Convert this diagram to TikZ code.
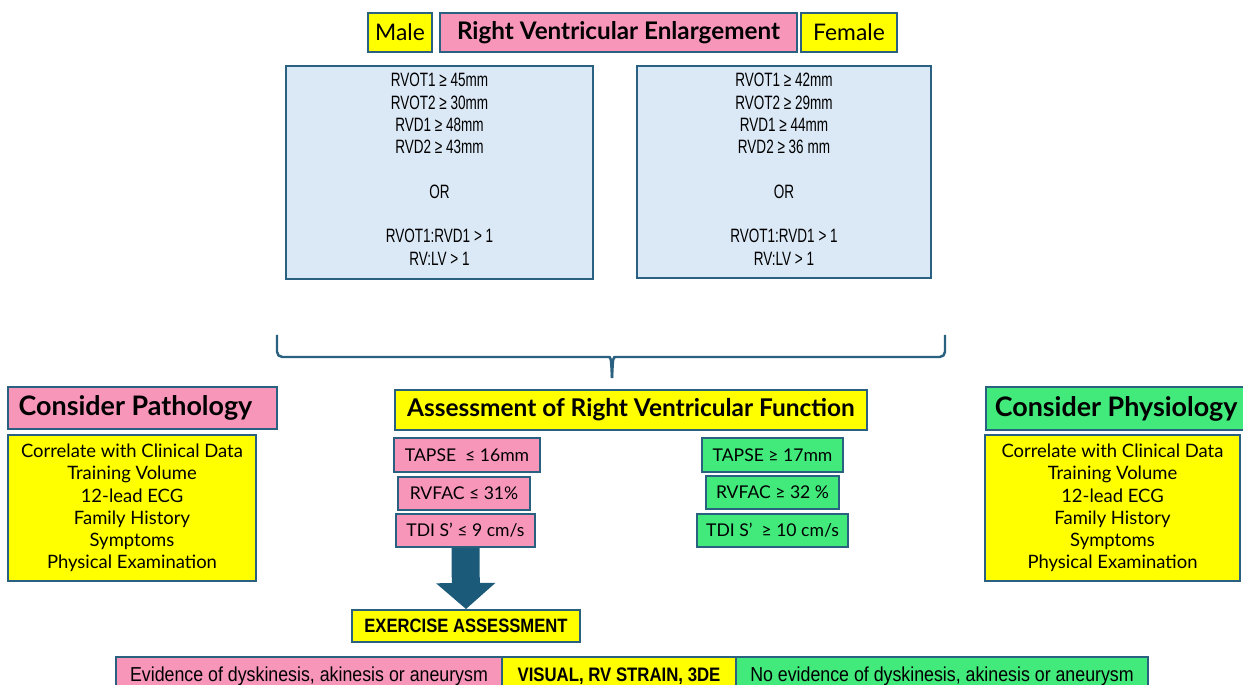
\documentclass[tikz,border=0pt]{standalone}
\usepackage{fontspec}
\setmainfont{Lato}
\newfontfamily\narrowfont[FakeStretch=0.86]{Liberation Sans}
\newfontfamily\bottomfont[FakeStretch=0.88]{Liberation Sans}
\newfontfamily\condfont[FakeStretch=0.7]{Liberation Sans}
\usepackage{xcolor}
\usepackage{tikz}
\usetikzlibrary{calc}
\usetikzlibrary{positioning}
\usetikzlibrary{arrows.meta}

\definecolor{edgeblue}{RGB}{42,96,128}
\definecolor{arrowblue}{RGB}{28,90,122}
\definecolor{pinkfill}{RGB}{248,150,186}
\definecolor{yelfill}{RGB}{255,255,0}
\definecolor{greenfill}{RGB}{66,234,124}
\definecolor{bluefill}{RGB}{219,232,246}
\def\pu{0.02cm}

\begin{document}
\begin{tikzpicture}[x=0.02cm,y=-0.02cm,
	box/.style={draw=edgeblue,line width=1.1pt,inner sep=0pt,align=center,text=black},
	pinkbox/.style={box,fill=pinkfill},
	yelbox/.style={box,fill=yelfill},
	greenbox/.style={box,fill=greenfill},
	bluebox/.style={box,fill=bluefill,anchor=north},
	listtext/.style={font=\fontsize{10.5}{12.7}\selectfont},
	smalltext/.style={font=\fontsize{10}{12}\selectfont},
	crittext/.style={align=center,anchor=north,font=\condfont\fontsize{11}{12.7}\selectfont},
	bottomtext/.style={font=\bottomfont\fontsize{11.5}{12}\selectfont}]
	\useasboundingbox (0,0) rectangle (1243,685);
	% top row
	\node[yelbox,minimum width=64*\pu,minimum height=39*\pu,font=\fontsize{13}{15}\selectfont] (male) at (400,32.5) {Male};
	\node[pinkbox,minimum width=357*\pu,minimum height=39*\pu,font=\fontsize{13.8}{15}\selectfont\bfseries] (rve) at (618.5,32.5) {Right Ventricular Enlargement};
	\node[yelbox,minimum width=96*\pu,minimum height=39*\pu,font=\fontsize{13}{15}\selectfont] (female) at (849,32.5) {Female};
	% criteria
	\node[bluebox,minimum width=307*\pu,minimum height=213*\pu] (malecrit) at (439.5,65) {};
	\node[crittext] (maletext) at ($(malecrit.north)+(0,2)$)
		{RVOT1 ≥ 45mm\\RVOT2 ≥ 30mm\\RVD1 ≥ 48mm\\RVD2 ≥ 43mm\\\mbox{}\\OR\\\mbox{}\\RVOT1:RVD1 > 1\\RV:LV > 1};
	\node[bluebox,minimum width=294*\pu,minimum height=212*\pu] (femalecrit) at (784,65) {};
	\node[crittext] (femaletext) at ($(femalecrit.north)+(0,2)$)
		{RVOT1 ≥ 42mm\\RVOT2 ≥ 29mm\\RVD1 ≥ 44mm\\RVD2 ≥ 36 mm\\\mbox{}\\OR\\\mbox{}\\RVOT1:RVD1 > 1\\RV:LV > 1};
	% brace
	\coordinate (bl) at (277,335);
	\coordinate (br) at (945,335);
	\coordinate (tip) at (612,378);
	\draw[edgeblue,line width=1.4pt] (bl) [rounded corners=3pt] |- (603,357) [sharp corners] .. controls (611,357) .. (tip);
	\draw[edgeblue,line width=1.4pt] (br) [rounded corners=3pt] |- (621,357) [sharp corners] .. controls (613,357) .. (tip);
	% pathology side
	\node[pinkbox,minimum width=269*\pu,minimum height=42*\pu,font=\fontsize{15.3}{17}\selectfont\bfseries] (patho) at (142.5,408) {Consider Pathology\hspace*{8pt}};
	\node[yelbox,minimum width=248*\pu,minimum height=146*\pu,listtext] (pathlist) at (132,508)
		{Correlate with Clinical Data\\Training Volume\\12-lead ECG\\Family History\\Symptoms\\Physical Examination};
	% physiology side
	\node[greenbox,minimum width=265*\pu,minimum height=43*\pu,font=\fontsize{15.3}{17}\selectfont\bfseries,anchor=west] (physio) at (985,408.5) {\hspace*{5pt}Consider Physiology\hspace*{10pt}};
	\node[yelbox,minimum width=255*\pu,minimum height=146*\pu,listtext] (physlist) at (1112.5,508)
		{Correlate with Clinical Data\\Training Volume\\12-lead ECG\\Family History\\Symptoms\\Physical Examination};
	% function
	\node[yelbox,minimum width=472*\pu,minimum height=40*\pu,font=\fontsize{13.9}{15}\selectfont\bfseries] (assess) at (631,410) {Assessment of Right Ventricular Function};
	\node[pinkbox,minimum width=146*\pu,minimum height=34*\pu,smalltext] (tapsel) at (467,455) {TAPSE\ \ ≤ 16mm};
	\node[pinkbox,minimum width=132*\pu,minimum height=33*\pu,smalltext] (rvfacl) at (464,493.5) {RVFAC ≤ 31\%};
	\node[pinkbox,minimum width=139*\pu,minimum height=33*\pu,smalltext] (tdil) at (465.5,530.5) {TDI S’ ≤ 9 cm/s};
	\node[greenbox,minimum width=141*\pu,minimum height=34*\pu,smalltext] (tapser) at (772.5,455) {TAPSE ≥ 17mm};
	\node[greenbox,minimum width=133*\pu,minimum height=33*\pu,smalltext] (rvfacr) at (772.5,492.5) {RVFAC ≥ 32 \%};
	\node[greenbox,minimum width=151*\pu,minimum height=33*\pu,smalltext] (tdir) at (772.5,530.5) {TDI S’\ \ ≥ 10 cm/s};
	% exercise
	\node[yelbox,minimum width=228*\pu,minimum height=32*\pu,font=\narrowfont\fontsize{11}{13}\selectfont\bfseries] (exercise) at (466,626) {EXERCISE ASSESSMENT};
	\draw[arrowblue,line width=28*\pu,-{Triangle[width=58*\pu,length=26*\pu]}] (tdil.south) -- (exercise.north);
	% bottom row
	\node[pinkbox,minimum width=386*\pu,minimum height=38*\pu,bottomtext] (dysk) at (309,676) {Evidence of dyskinesis, akinesis or aneurysm};
	\node[yelbox,minimum width=234*\pu,minimum height=38*\pu,font=\narrowfont\fontsize{11.1}{12}\selectfont\bfseries] (visual) at (619,676) {VISUAL, RV STRAIN, 3DE};
	\node[greenbox,minimum width=412*\pu,minimum height=38*\pu,bottomtext] (nodysk) at (942,676) {No evidence of dyskinesis, akinesis or aneurysm};
\end{tikzpicture}
\end{document}
